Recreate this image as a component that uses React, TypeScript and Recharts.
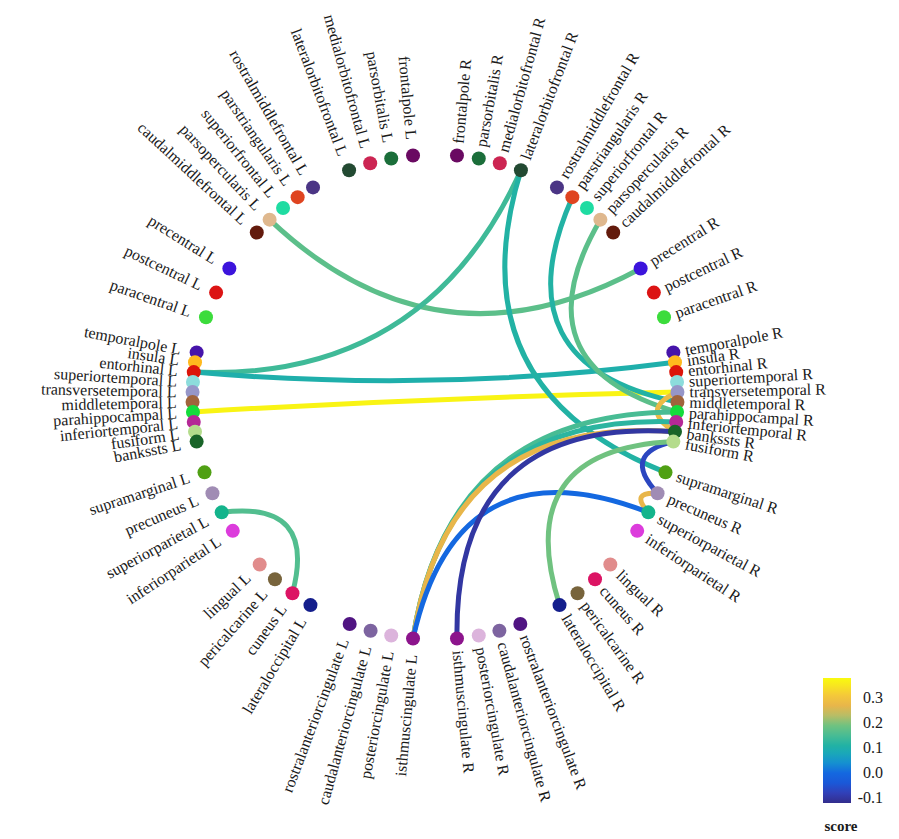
import React from 'react';
import { ScatterChart, Scatter, XAxis, YAxis } from 'recharts';

// ---------------- data ----------------
const leftRegions = [
  'frontalpole L', 'parsorbitalis L', 'medialorbitofrontal L', 'lateralorbitofrontal L',
  'rostralmiddlefrontal L', 'parstriangularis L', 'superiorfrontal L', 'parsopercularis L', 'caudalmiddlefrontal L',
  'precentral L', 'postcentral L', 'paracentral L',
  'temporalpole L', 'insula L', 'entorhinal L', 'superiortemporal L', 'transversetemporal L', 'middletemporal L',
  'parahippocampal L', 'inferiortemporal L', 'fusiform L', 'bankssts L',
  'supramarginal L', 'precuneus L', 'superiorparietal L', 'inferiorparietal L',
  'lingual L', 'pericalcarine L', 'cuneus L', 'lateraloccipital L',
  'rostralanteriorcingulate L', 'caudalanteriorcingulate L', 'posteriorcingulate L', 'isthmuscingulate L',
];

const rightRegions = [
  'frontalpole R', 'parsorbitalis R', 'medialorbitofrontal R', 'lateralorbitofrontal R',
  'rostralmiddlefrontal R', 'parstriangularis R', 'superiorfrontal R', 'parsopercularis R', 'caudalmiddlefrontal R',
  'precentral R', 'postcentral R', 'paracentral R',
  'temporalpole R', 'insula R', 'entorhinal R', 'superiortemporal R', 'transversetemporal R', 'middletemporal R',
  'parahippocampal R', 'inferiortemporal R', 'bankssts R', 'fusiform R',
  'supramarginal R', 'precuneus R', 'superiorparietal R', 'inferiorparietal R',
  'lingual R', 'cuneus R', 'pericalcarine R', 'lateraloccipital R',
  'rostralanteriorcingulate R', 'caudalanteriorcingulate R', 'posteriorcingulate R', 'isthmuscingulate R',
];

// angular slot of each node (degrees, right hemisphere; left hemisphere is mirrored)
const slotAngles = [
  84.8, 79.6, 74.5, 69.25,
  59.8, 55.5, 51.2, 47.0, 42.7,
  32.0, 25.5, 19.2,
  10.6, 8.24, 5.89, 3.53, 1.18, -1.18, -3.53, -5.89, -8.24, -10.6,
  -18.1, -23.4, -28.4, -33.5,
  -43.7, -48.7, -54.0, -59.1,
  -69.4, -74.6, -79.6, -84.8,
];

const regionColors: Record<string, string> = {
  frontalpole: '#6a0a62', parsorbitalis: '#1b6e3a', medialorbitofrontal: '#cc2552', lateralorbitofrontal: '#234a32',
  rostralmiddlefrontal: '#4b3585', parstriangularis: '#df4420', superiorfrontal: '#1fdca2', parsopercularis: '#dfb88e',
  caudalmiddlefrontal: '#631a0c', precentral: '#3c14dc', postcentral: '#dc1414', paracentral: '#3cdc3c',
  temporalpole: '#4614aa', insula: '#ffb91e', entorhinal: '#dc140a', superiortemporal: '#8cdcdc',
  transversetemporal: '#9696c8', middletemporal: '#a0643c', parahippocampal: '#14dc3c', inferiortemporal: '#b42896',
  fusiform: '#b4dc8c', bankssts: '#196428', supramarginal: '#50a014', precuneus: '#a08cb4',
  superiorparietal: '#14b48c', inferiorparietal: '#dc3cdc', lingual: '#e18c8c', pericalcarine: '#78643c',
  cuneus: '#dc1464', lateraloccipital: '#141e8c', rostralanteriorcingulate: '#501482', caudalanteriorcingulate: '#7d64a0',
  posteriorcingulate: '#dcb4dc', isthmuscingulate: '#8c148c',
};

const edgeSources = [
  'parsopercularis L', 'entorhinal L', 'entorhinal L', 'parahippocampal L',
  'lateralorbitofrontal R', 'parstriangularis R', 'parsopercularis R', 'transversetemporal R',
  'fusiform R', 'precuneus R', 'isthmuscingulate L', 'isthmuscingulate L',
  'isthmuscingulate L', 'isthmuscingulate L', 'isthmuscingulate R', 'lateraloccipital R',
  'superiorparietal L',
];
const edgeTargets = [
  'precentral R', 'lateralorbitofrontal R', 'insula R', 'transversetemporal R',
  'supramarginal R', 'middletemporal R', 'parahippocampal R', 'bankssts R',
  'precuneus R', 'superiorparietal R', 'parahippocampal R', 'inferiortemporal R',
  'bankssts R', 'superiorparietal R', 'bankssts R', 'fusiform R',
  'cuneus L',
];
const edgeScores = [
  0.17, 0.14, 0.10, 0.37,
  0.11, 0.11, 0.17, 0.28,
  -0.07, 0.27, 0.15, 0.12,
  0.27, 0.0, -0.1, 0.19,
  0.16,
];

// colour scale (parula-like)
const scoreStops = [-0.12, -0.08, -0.04, 0.0, 0.04, 0.08, 0.11, 0.15, 0.19, 0.23, 0.27, 0.31, 0.35, 0.38];
const scoreColors = ['#332d8c', '#3140b8', '#1a58d8', '#1468e0', '#1590d0', '#1aa8b8', '#22b2a4', '#48bc94',
  '#70c280', '#b8bd66', '#e8b64a', '#f4c83a', '#f8e620', '#f9fb0e'];
const colorbarTicks = [0.3, 0.2, 0.1, 0.0, -0.1];
const colorbarLabels = ['0.3', '0.2', '0.1', '0.0', '-0.1'];
const colorbarTitle = 'score';

// ---------------- helpers ----------------
const W = 891;
const H = 831;
const CX = 427;
const CY = 389;
const RPX = 242.5;
const xDomain: [number, number] = [-CX / RPX, (W - CX) / RPX];
const yDomain: [number, number] = [-(H - CY) / RPX, CY / RPX];
const FONT = "'Liberation Serif', 'Times New Roman', Times, serif";

const hexToRgb = (h: string) => [1, 3, 5].map((i) => parseInt(h.slice(i, i + 2), 16));
const scoreColor = (v: number) => {
  if (v <= scoreStops[0]) return scoreColors[0];
  for (let i = 1; i < scoreStops.length; i++) {
    if (v <= scoreStops[i]) {
      const t = (v - scoreStops[i - 1]) / (scoreStops[i] - scoreStops[i - 1]);
      const a = hexToRgb(scoreColors[i - 1]);
      const b = hexToRgb(scoreColors[i]);
      const c = a.map((x, k) => Math.round(x + (b[k] - x) * t));
      return `rgb(${c[0]},${c[1]},${c[2]})`;
    }
  }
  return scoreColors[scoreColors.length - 1];
};

const rad = (d: number) => (d * Math.PI) / 180;

const nodes = [
  ...leftRegions.map((name, i) => ({ name, angle: 180 - slotAngles[i], left: true })),
  ...rightRegions.map((name, i) => ({ name, angle: slotAngles[i], left: false })),
].map((d) => ({
  ...d,
  x: Math.cos(rad(d.angle)),
  y: Math.sin(rad(d.angle)),
  color: regionColors[d.name.slice(0, -2)],
}));

const nodeByName: Record<string, any> = {};
nodes.forEach((n) => { nodeByName[n.name] = n; });

const edges = edgeSources.map((s, i) => {
  const a = nodeByName[s];
  const b = nodeByName[edgeTargets[i]];
  const mx = (a.x + b.x) / 2;
  const my = (a.y + b.y) / 2;
  const c = Math.hypot(a.x - b.x, a.y - b.y) / 2;
  const k = Math.min(0.88, 0.05 + 1.3 * c);
  return {
    color: scoreColor(edgeScores[i]),
    points: [
      { x: a.x, y: a.y },
      { x: mx * (1 - k), y: my * (1 - k) },
      { x: b.x, y: b.y },
    ],
  };
});

const EmptyShape = () => <g />;

const NodeShape = (props: any) => {
  const { cx, cy, payload } = props;
  const th = rad(payload.angle);
  const off = payload.left ? 16 : 12;
  const lx = cx + off * Math.cos(th);
  const ly = cy - off * Math.sin(th);
  const rot = payload.left ? 180 - payload.angle : -payload.angle;
  return (
    <g>
      <circle cx={cx} cy={cy} r={7} fill={payload.color} />
      <text
        x={lx}
        y={ly}
        transform={`rotate(${rot}, ${lx}, ${ly})`}
        textAnchor={payload.left ? 'end' : 'start'}
        dominantBaseline="central"
        fontSize={16}
        fontFamily={FONT}
        fill="#1a1a1a"
      >
        {payload.name}
      </text>
    </g>
  );
};

const makeLine = (color: string) => (p: any) => {
  const pts = p.points;
  const d = `M${pts[0].x},${pts[0].y} Q${pts[1].x},${pts[1].y} ${pts[2].x},${pts[2].y}`;
  return <path d={d} stroke={color} strokeWidth={5} fill="none" />;
};

// colour bar geometry (svg coords)
const CB_X = 815;
const CB_W = 28;
const CB_TOP = 670;
const CB_H = 125;
const CB_MAX = 0.38;
const CB_MIN = -0.12;
const cbY = (v: number) => CB_TOP + ((CB_MAX - v) / (CB_MAX - CB_MIN)) * CB_H;
const gradStops = scoreStops
  .map((v, i) => ({ offset: ((CB_MAX - v) / (CB_MAX - CB_MIN)) * 100, color: scoreColors[i] }))
  .sort((a, b) => a.offset - b.offset);

export default function App() {
  return (
    <div style={{ position: 'relative', width: W, height: H }}>
      <ScatterChart width={W} height={H} margin={{ top: 0, right: 0, bottom: 0, left: 0 }}>
        <XAxis type="number" dataKey="x" domain={xDomain} hide allowDataOverflow />
        <YAxis type="number" dataKey="y" domain={yDomain} hide allowDataOverflow />
        {edges.map((e, i) => (
          <Scatter
            key={`edge-${i}`}
            data={e.points}
            isAnimationActive={false}
            shape={EmptyShape}
            line={makeLine(e.color)}
            lineType="joint"
            legendType="none"
          />
        ))}
        <Scatter data={nodes} isAnimationActive={false} shape={NodeShape} legendType="none" />
      </ScatterChart>
      <svg
        width={W}
        height={H}
        style={{ position: 'absolute', left: 0, top: 0, pointerEvents: 'none' }}
      >
        <defs>
          <linearGradient id="cbgrad" x1="0" y1="0" x2="0" y2="1">
            {gradStops.map((s, i) => (
              <stop key={i} offset={`${s.offset}%`} stopColor={s.color} />
            ))}
          </linearGradient>
        </defs>
        <rect x={CB_X} y={CB_TOP} width={CB_W} height={CB_H} fill="url(#cbgrad)" />
        {colorbarTicks.map((v, i) => (
          <text
            key={i}
            x={875}
            y={cbY(v) + 5}
            textAnchor="end"
            fontSize={16}
            fontFamily={FONT}
            fill="#1a1a1a"
          >
            {colorbarLabels[i]}
          </text>
        ))}
        <text
          x={833}
          y={823}
          textAnchor="middle"
          fontSize={15}
          fontWeight="bold"
          fontFamily={FONT}
          fill="#1a1a1a"
        >
          {colorbarTitle}
        </text>
      </svg>
    </div>
  );
}
